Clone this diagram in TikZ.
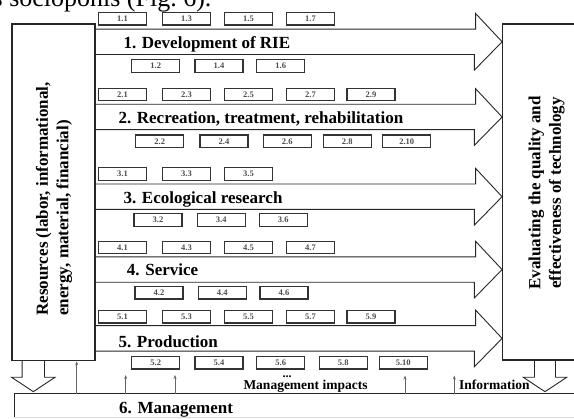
\documentclass[tikz,border=0pt]{standalone}
\usepackage{fontspec}
\setmainfont{Liberation Serif}
\usetikzlibrary{arrows.meta, positioning}

\begin{document}
\begin{tikzpicture}[x=1pt, y=-1pt,
        % small numbered boxes along the arrows
        item/.style={rectangle, draw=black!80, line width=1.1pt, fill=white,
            minimum width=48pt, minimum height=12.6pt, inner sep=0pt,
            font=\fontsize{8.5}{8.5}\selectfont\bfseries, text=black!70},
        % labels inside the wide arrows
        dirlabel/.style={anchor=base west, inner sep=0pt,
            font=\fontsize{17}{20}\selectfont\bfseries},
        % rotated texts in the side boxes
        side/.style={rotate=90, inner sep=0pt,
            font=\fontsize{17}{20.5}\selectfont\bfseries},
        note/.style={anchor=base west, inner sep=0pt,
            font=\fontsize{13.5}{15}\selectfont\bfseries},
        bigbox/.style={rectangle, draw=black!85, line width=1.2pt, inner sep=0pt},
        flow/.style={draw=black!85, line width=0.9pt, line join=miter},
        hollow/.style={draw=black!85, line width=0.9pt, line join=miter},
        impact/.style={draw=black!60, line width=0.6pt,
            -{Stealth[length=4pt, width=3pt]}},
        ]

        \useasboundingbox (0,0) rectangle (574,419);
        \clip (0,0) rectangle (574,419);

        % line of the text above the figure
        \node[anchor=base east, inner sep=0pt, font=\fontsize{26}{30}\selectfont] (cap) at (211.7,6.5) {s socioponis (Fig.~6).};

        % === Side boxes ===
        \node[bigbox, minimum width=83pt, minimum height=336.7pt] (res) at (53.5,192.35) {};
        \node[bigbox, minimum width=100pt, minimum height=336pt] (eval) at (552.7,192) {};
        \node[side, align=left] (restext) at (54,199) {Resources (labor, informational,\\energy, material, financial)};
        \node[side, align=center] (evaltext) at (546.5,193) {Evaluating the quality and\\effectiveness of technology};

        % === Management box (bottom) ===
        \node[inner sep=0pt, minimum width=600pt, minimum height=23pt] (mgmt) at (315,405.5) {};
        \draw[black!85, line width=1.2pt] (mgmt.south west) -- (mgmt.north west) -- (mgmt.north east);
        \draw[black!15, line width=0.8pt] (mgmt.south west) -- (mgmt.south east);
        \node[dirlabel] (m6) at (119,414) {6. Management};

        % === Wide arrows ===
        \foreach \y [count=\i] in {41.8,117,196.7,269.6,338.4} {
            \coordinate (r\i) at (0,\y);
            \draw[flow] (res.east |- r\i) ++(0,-12.7) -- ++(380,0) -- ++(0,-15.6)
                -- (eval.west |- r\i) -- ++(-27.7,28.3) -- ++(0,-15.6) -- ++(-380,0);
        }

        \node[dirlabel] (d1) at (123.3,49) {1. Development of RIE};
        \node[dirlabel] (d2) at (118.3,124) {2. Recreation, treatment, rehabilitation};
        \node[dirlabel] (d3) at (123.3,204) {3. Ecological research};
        \node[dirlabel] (d4) at (126.7,275.5) {4. Service};
        \node[dirlabel] (d5) at (118.3,347.7) {5. Production};

        % === Numbered boxes ===
        \foreach \k/\x in {1/122.5,3/186.5,5/248.5,7/310.5}
            \node[item] (b1-\k) at (\x,18.7) {1.\k};
        \foreach \k/\x in {2/155.7,4/219,6/280.7}
            \node[item] (b1-\k) at (\x,66) {1.\k};

        \foreach \k/\x in {1/122.5,3/186.5,5/248.5,7/310.5,9/371}
            \node[item] (b2-\k) at (\x,94.5) {2.\k};
        \foreach \k/\x in {2/159.7,4/224,6/287.3,8/347.3,10/406.7}
            \node[item] (b2-\k) at (\x,141.3) {2.\k};

        \foreach \k/\x in {1/122.5,3/186.5,5/248.5}
            \node[item] (b3-\k) at (\x,174.2) {3.\k};
        \foreach \k/\x in {2/158,4/221.3,6/283.3}
            \node[item] (b3-\k) at (\x,220) {3.\k};

        \foreach \k/\x in {1/122.5,3/186.5,5/248.5,7/310.5}
            \node[item] (b4-\k) at (\x,247.5) {4.\k};
        \foreach \k/\x in {2/159,4/222.3,6/284}
            \node[item] (b4-\k) at (\x,292.7) {4.\k};

        \foreach \k/\x in {1/122.5,3/186.5,5/248.5,7/310.5,9/371}
            \node[item] (b5-\k) at (\x,316.7) {5.\k};
        \foreach \k/\x in {2/155.7,4/219,6/280.7,8/343.3,10/403.3}
            \node[item] (b5-\k) at (\x,362.7) {5.\k};

        % === Hollow down arrows ===
        \draw[hollow] (22.1,360.7) -- (22.1,377.3) -- (11.6,377.3) -- (33.3,391.7)
            -- (55,377.3) -- (44.5,377.3) -- (44.5,360.7);
        \draw[hollow] (534.5,360) -- (534.5,377.3) -- (523.3,377.3) -- (545,391.7)
            -- (566.7,377.3) -- (555.5,377.3) -- (555.5,360);

        % === Management impacts ===
        \coordinate (u0) at (76.7,0);
        \coordinate (u1) at (125.7,375);
        \coordinate (u2) at (175,375);
        \coordinate (u3) at (405,375.5);
        \coordinate (u4) at (454.3,375.5);
        \draw[impact] (mgmt.north -| u0) -- (res.south -| u0);
        \foreach \u in {u1,u2,u3,u4}
            \draw[impact] (mgmt.north -| \u) -- (\u);

        \node[note, anchor=base, font=\fontsize{12}{13}\selectfont\bfseries] (dots) at (287,377.5) {...};
        \node[note] (impacts) at (243.3,389.3) {Management impacts};
        \node[note] (info) at (459,389.3) {Information};

    \end{tikzpicture}
\end{document}
